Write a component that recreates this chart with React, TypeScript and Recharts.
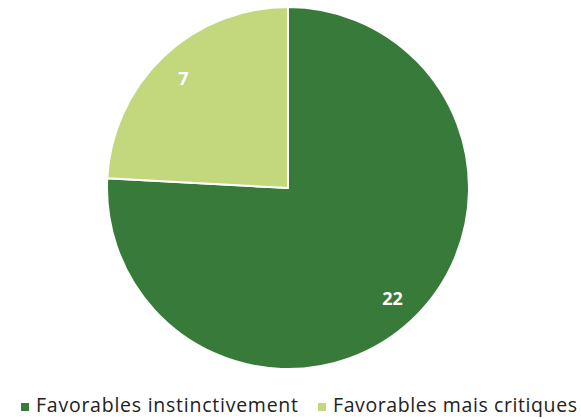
import { PieChart, Pie, Cell, Legend } from 'recharts';

const categories = ['Favorables instinctivement', 'Favorables mais critiques'];
const values = [22, 7];
const colors = ['#387A39', '#C3D87D'];

const data = categories.map((name, i) => ({ name, value: values[i] }));

const RADIAN = Math.PI / 180;

const renderLabel = ({ cx, cy, midAngle, outerRadius, value }: any) => {
  const r = outerRadius * 0.84;
  const x = cx + r * Math.cos(-midAngle * RADIAN);
  const y = cy + r * Math.sin(-midAngle * RADIAN);
  return (
    <text
      x={x}
      y={y}
      fill="#ffffff"
      textAnchor="middle"
      dominantBaseline="central"
      fontFamily="'Open Sans', sans-serif"
      fontWeight="bold"
      fontSize={18}
    >
      {value}
    </text>
  );
};

// legend item slots: marker x, text x, text width
const legendSlots = [
  { mx: 21, tx: 36, tw: 262 },
  { mx: 318, tx: 333, tw: 244 },
];

const renderLegend = () => (
  <svg width={581} height={29} style={{ display: 'block' }}>
    {categories.map((c, i) => (
      <g key={c}>
        <rect x={legendSlots[i].mx} y={13} width={8} height={8} fill={colors[i]} />
        <text
          x={legendSlots[i].tx}
          y={22}
          textLength={legendSlots[i].tw}
          lengthAdjust="spacing"
          fontFamily="'Open Sans', sans-serif"
          fontSize={19.5}
          fill="#222"
        >
          {c}
        </text>
      </g>
    ))}
  </svg>
);

export default function App() {
  return (
    <div style={{ position: 'fixed', left: 0, top: 0, background: '#fff' }}>
      <PieChart width={581} height={419} margin={{ top: 0, right: 0, bottom: 0, left: 0 }}>
        <Pie
          data={data}
          dataKey="value"
          cx={288}
          cy={188}
          outerRadius={181}
          startAngle={90}
          endAngle={-270}
          stroke="#ffffff"
          strokeWidth={2}
          labelLine={false}
          label={renderLabel}
          isAnimationActive={false}
        >
          {data.map((d, i) => (
            <Cell key={d.name} fill={colors[i]} />
          ))}
        </Pie>
        <Legend
          content={renderLegend}
          wrapperStyle={{ position: 'absolute', left: 0, top: 390, width: 581 }}
        />
      </PieChart>
    </div>
  );
}
